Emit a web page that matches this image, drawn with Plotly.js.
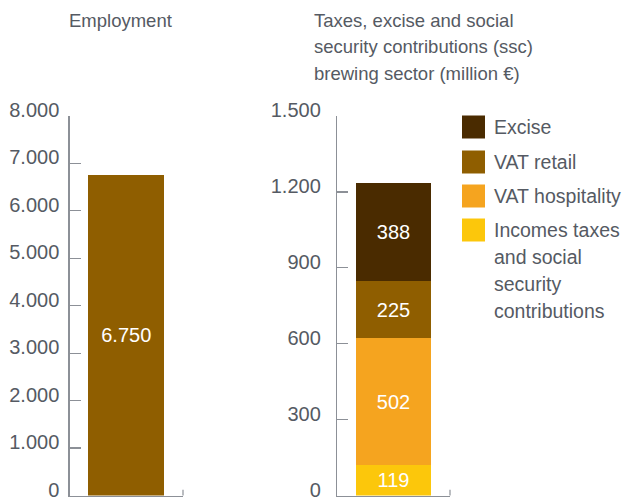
<!DOCTYPE html>
<html>
<head>
<meta charset="utf-8">
<script src="https://cdn.plot.ly/plotly-3.0.1.min.js"></script>
<style>html,body{margin:0;padding:0;background:#fff;}#chart{width:628px;height:497px;}</style>
</head>
<body>
<div id="chart"></div>
<script>
// ---- data ----
const employmentCategory = ['Employment'];
const employmentValues = [6750];
const taxSeries = ['Incomes taxes and social security contributions', 'VAT hospitality', 'VAT retail', 'Excise'];
const taxValues = [119, 502, 225, 388];
const taxCategory = ['Taxes'];
const leftTicks = [0, 1000, 2000, 3000, 4000, 5000, 6000, 7000, 8000];
const rightTicks = [0, 300, 600, 900, 1200, 1500];
const leftTitle = ['Employment'];
const rightTitle = ['Taxes, excise and social', 'security contributions (ssc)', 'brewing sector (million €)'];
const legendOrder = ['Excise', 'VAT retail', 'VAT hospitality', 'Incomes taxes and social security contributions'];
const legendLines = [['Excise'], ['VAT retail'], ['VAT hospitality'], ['Incomes taxes', 'and social', 'security', 'contributions']];

// ---- styles ----
const colors = {
  'Excise': '#4a2b00',
  'VAT retail': '#8f5e00',
  'VAT hospitality': '#f5a41f',
  'Incomes taxes and social security contributions': '#fcc70b'
};
const empColor = '#8f5e00';
const FONT = 'Liberation Sans, Arial, sans-serif';
const axisGray = '#8c9097';
const textGray = '#555a63';
const W = 628, H = 497;
const px = x => x / W;
const py = y => (H - y) / H;

const barText = {family: FONT, size: 20, color: '#ffffff'};

const traces = [{
  type: 'bar', x: employmentCategory, y: employmentValues,
  xaxis: 'x', yaxis: 'y', width: 0.67,
  marker: {color: empColor, line: {width: 0}},
  texttemplate: '%{y:,}', textposition: 'inside', insidetextanchor: 'middle',
  textfont: barText, showlegend: false, hoverinfo: 'skip'
}];
taxSeries.forEach((name, i) => {
  traces.push({
    type: 'bar', name: name, x: taxCategory, y: [taxValues[i]],
    xaxis: 'x2', yaxis: 'y2', width: 0.67,
    marker: {color: colors[name], line: {width: 0}},
    texttemplate: '%{y:,}', textposition: 'inside', insidetextanchor: 'middle',
    textfont: barText, showlegend: false, hoverinfo: 'skip'
  });
});

const yDomain = [1.5 / H, py(116)];
const yAxisBase = {
  showline: true, linecolor: axisGray, linewidth: 1.2,
  ticks: 'inside', ticklen: 11, tickcolor: axisGray, tickwidth: 1.2,
  showgrid: false, zeroline: false, tickformat: ',d',
  tickfont: {family: FONT, size: 20, color: textGray},
  ticklabeloverflow: 'allow', ticklabelshift: -6,
  domain: yDomain, fixedrange: true
};
const xAxisBase = {
  showline: true, linecolor: axisGray, linewidth: 1.2,
  showticklabels: false, ticks: '', showgrid: false, zeroline: false,
  range: [-0.5, 0.5], fixedrange: true
};

const annotations = [];
leftTitle.forEach((t, i) => annotations.push({
  xref: 'paper', yref: 'paper', x: px(67), y: py(20 + i * 27), xanchor: 'left', yanchor: 'middle',
  text: t, showarrow: false, font: {family: FONT, size: 18.5, color: textGray}
}));
rightTitle.forEach((t, i) => annotations.push({
  xref: 'paper', yref: 'paper', x: px(312), y: py(20 + i * 27), xanchor: 'left', yanchor: 'middle',
  text: t, showarrow: false, font: {family: FONT, size: 18.5, color: textGray}
}));

const shapes = [
  {type: 'line', xref: 'x domain', yref: 'y domain', x0: 1, x1: 1, y0: 0, y1: 0.015, line: {color: axisGray, width: 1.2}},
  {type: 'line', xref: 'x2 domain', yref: 'y2 domain', x0: 1, x1: 1, y0: 0, y1: 0.015, line: {color: axisGray, width: 1.2}}
];
const legendRowY = [127, 162, 196, 230];
legendOrder.forEach((name, i) => {
  const cy = legendRowY[i];
  shapes.push({
    type: 'rect', xref: 'paper', yref: 'paper',
    x0: px(462), x1: px(485), y0: py(cy + 11.5), y1: py(cy - 11.5),
    fillcolor: colors[name], line: {width: 0}
  });
  legendLines[i].forEach((t, j) => annotations.push({
    xref: 'paper', yref: 'paper', x: px(492), y: py(cy + j * 27), xanchor: 'left', yanchor: 'middle',
    text: t, showarrow: false, font: {family: FONT, size: 19.5, color: textGray}
  }));
});

const layout = {
  width: W, height: H,
  margin: {l: 0, r: 0, t: 0, b: 0},
  paper_bgcolor: '#ffffff', plot_bgcolor: '#ffffff',
  separators: ',.',
  barmode: 'stack',
  showlegend: false,
  xaxis: Object.assign({}, xAxisBase, {domain: [px(69.5), px(183)], anchor: 'y'}),
  yaxis: Object.assign({}, yAxisBase, {range: [0, 8000], tickvals: leftTicks, anchor: 'x', ticklabelstandoff: 5}),
  xaxis2: Object.assign({}, xAxisBase, {domain: [px(337), px(450)], anchor: 'y2'}),
  yaxis2: Object.assign({}, yAxisBase, {range: [0, 1500], tickvals: rightTicks, anchor: 'x2', ticklabelstandoff: 11}),
  annotations: annotations,
  shapes: shapes,
  uniformtext: {mode: false}
};

Plotly.newPlot('chart', traces, layout, {displayModeBar: false, staticPlot: true});
</script>
</body>
</html>
